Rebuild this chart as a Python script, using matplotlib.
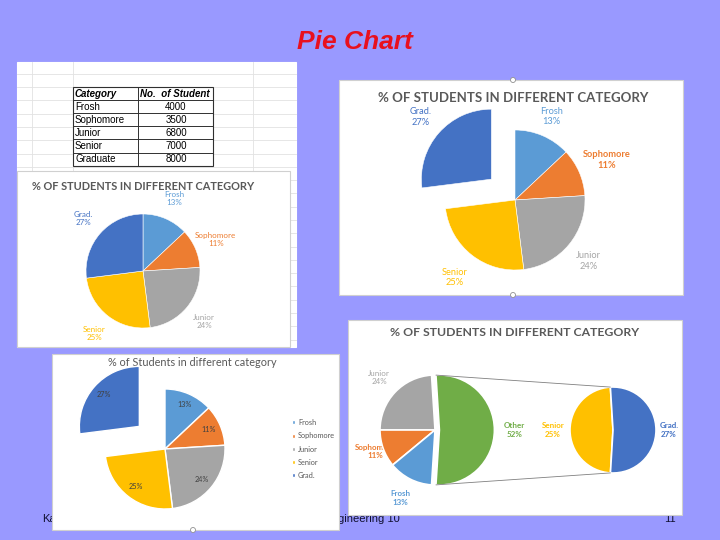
import matplotlib.pyplot as plt
from matplotlib.patches import Rectangle, Circle, ConnectionPatch
import numpy as np

# table / chart data
categories = ["Frosh", "Sophomore", "Junior", "Senior", "Graduate"]
students = [4000, 3500, 6800, 7000, 8000]
short_names = ["Frosh", "Sophomore", "Junior", "Senior", "Grad."]
pct = [13, 11, 24, 25, 27]
other_names = ["Other", "Junior", "Sophomore", "Frosh"]
other_pct = [52, 24, 11, 13]
split_names = ["Senior", "Grad."]
split_pct = [25, 27]

colors = ["#5B9BD5", "#ED7D31", "#A5A5A5", "#FFC000", "#4472C4"]
other_colors = ["#70AD47", "#A5A5A5", "#ED7D31", "#5B9BD5"]
split_colors = ["#FFC000", "#4472C4"]

W, H = 720, 540
BG = "#9999FF"
TITLE_GRAY = "#595959"
CHART_FONT = ["Lato", "DejaVu Sans"]

fig = plt.figure(figsize=(W / 100, H / 100), dpi=100, facecolor=BG)

# slide layer in pixel coords
slide = fig.add_axes([0, 0, 1, 1])
slide.set_xlim(0, W)
slide.set_ylim(H, 0)
slide.axis("off")


def panel(x0, y0, x1, y1, edge="#D0D0D0", z=1):
    slide.add_patch(Rectangle((x0, y0), x1 - x0, y1 - y0, facecolor="white",
                              edgecolor=edge, linewidth=0.8, zorder=z))


def handle(x, y):
    slide.add_patch(Circle((x, y), 2.5, facecolor="white", edgecolor="#909090",
                           linewidth=0.6, zorder=10))


def box(x0, y0, x1, y1):
    return [x0 / W, 1 - y1 / H, (x1 - x0) / W, (y1 - y0) / H]


def pie_ax(cx, cy, half):
    ax = fig.add_axes(box(cx - half, cy - half, cx + half, cy + half))
    ax.set_facecolor("none")
    return ax


def fix_limits(ax, r, half):
    ax.set_xlim(-half / r, half / r)
    ax.set_ylim(-half / r, half / r)
    ax.axis("off")


def outer_labels(ax, wedges, names, vals, cols, d, size, bold=(), z=3):
    # d may be a single distance or one per wedge
    ds = d if isinstance(d, (list, tuple)) else [d] * len(wedges)
    for i, (w, n, v, c, di) in enumerate(zip(wedges, names, vals, cols, ds)):
        th = np.deg2rad((w.theta1 + w.theta2) / 2)
        x = w.center[0] + di * np.cos(th)
        y = w.center[1] + di * np.sin(th)
        ax.text(x, y, f"{n}\n{v}%", ha="center", va="center", color=c,
                fontsize=size, linespacing=1.25, family=CHART_FONT,
                fontweight="bold" if i in bold else "normal", zorder=z)


# title
slide.text(355, 42, "Pie Chart", ha="center", va="center", fontsize=19,
           color="#E8101E", fontweight="bold", style="italic",
           family=["Liberation Sans", "DejaVu Sans"])

# footer text (partly hidden by the bottom-left panel)
ffont = ["Liberation Sans"]
slide.text(42, 519, "Ka", ha="left", va="center", fontsize=8, color="#101030",
           family=ffont, zorder=0.5)
slide.text(338, 519, "gineering 10", ha="left", va="center", fontsize=8,
           color="#101030", family=ffont, zorder=0.5)
slide.text(676, 519, "11", ha="right", va="center", fontsize=8, color="#101030",
           family=ffont, zorder=0.5)

# ---- spreadsheet area (top-left) ----
panel(17, 62, 296, 347, edge="white")
for gy in np.arange(73.7, 347, 13.3):
    slide.plot([17, 296], [gy, gy], color="#E2E2E2", lw=0.6, zorder=1.1)
for gx in [32, 73, 253]:
    slide.plot([gx, gx], [62, 347], color="#E2E2E2", lw=0.6, zorder=1.1)

tx0, tx1, tmid, ty0, rh = 73, 213, 138, 87, 13.1
slide.add_patch(Rectangle((tx0, ty0), tx1 - tx0, rh * 6, facecolor="white",
                          edgecolor="#303030", lw=0.8, zorder=1.2))
for k in range(1, 6):
    slide.plot([tx0, tx1], [ty0 + k * rh] * 2, color="#303030", lw=0.7, zorder=1.3)
slide.plot([tmid, tmid], [ty0, ty0 + 6 * rh], color="#303030", lw=0.7, zorder=1.3)
tfont = ["Liberation Sans", "DejaVu Sans"]
slide.text(tx0 + 2, ty0 + rh / 2, "Category", ha="left", va="center", fontsize=7,
           fontweight="bold", style="italic", family=tfont, zorder=1.4)
slide.text(tmid + 2, ty0 + rh / 2, "No.  of Student", ha="left", va="center",
           fontsize=7, fontweight="bold", style="italic", family=tfont, zorder=1.4)
for k, (c, n) in enumerate(zip(categories, students)):
    yy = ty0 + (k + 1.5) * rh
    slide.text(tx0 + 2, yy, c, ha="left", va="center", fontsize=7, family=tfont,
               zorder=1.4)
    slide.text(176, yy, str(n), ha="center", va="center", fontsize=7,
               family=tfont, zorder=1.4)

# ---- chart panels ----
panel(17, 171, 290, 347, z=2)
panel(339, 80, 683, 295)
panel(348, 320, 682, 515)
panel(52, 354, 339, 530)
handle(513, 80)
handle(513, 295)
handle(193, 530)

# chart 1 (top-left)
slide.text(143, 186, "% OF STUDENTS IN DIFFERENT CATEGORY", ha="center",
           va="center", fontsize=7.9, color=TITLE_GRAY, fontweight="bold",
           family=CHART_FONT, zorder=3)
r1, h1 = 57, 85
ax1 = pie_ax(143, 271, h1)
w1, _ = ax1.pie(pct, colors=colors, startangle=90, counterclock=False,
                wedgeprops=dict(edgecolor="white", linewidth=0.4))
outer_labels(ax1, w1, short_names, pct, colors, 1.39, 5.8)
fix_limits(ax1, r1, h1)

# chart 2 (top-right)
slide.text(513, 98, "% OF STUDENTS IN DIFFERENT CATEGORY", ha="center",
           va="center", fontsize=9.5, color=TITLE_GRAY, fontweight="bold",
           family=CHART_FONT)
r2, h2 = 70, 105
ax2 = pie_ax(515, 200, h2)
w2, _ = ax2.pie(pct, colors=colors, startangle=90, counterclock=False,
                explode=[0, 0, 0, 0, 0.45],
                wedgeprops=dict(edgecolor="white", linewidth=0.4))
outer_labels(ax2, w2, short_names, pct, colors, [1.3, 1.43, 1.36, 1.4, 1.34],
             6.7, bold=(1,))
fix_limits(ax2, r2, h2)

# chart 3 (bottom-left)
slide.text(192, 363, "% of Students in different category", ha="center",
           va="center", fontsize=7.8, color=TITLE_GRAY, family=CHART_FONT)
r3, h3 = 60, 88
ax3 = pie_ax(165, 449, h3)
w3, _, _ = ax3.pie(pct, colors=colors, startangle=90, counterclock=False,
                   explode=[0, 0, 0, 0, 0.57], autopct="%.0f%%", pctdistance=0.8,
                   wedgeprops=dict(edgecolor="white", linewidth=1.0),
                   textprops=dict(fontsize=5.2, color="#404040",
                                  family=CHART_FONT))
fix_limits(ax3, r3, h3)
ax3.legend(w3, short_names, loc="upper left", frameon=False,
           labelcolor="#595959", handlelength=0.45, handleheight=0.45,
           handletextpad=0.35, labelspacing=0.85, borderpad=0, borderaxespad=0,
           bbox_to_anchor=(292 / W, 1 - 419 / H), bbox_transform=fig.transFigure,
           prop=dict(family=CHART_FONT, size=5.3))

# chart 4 (bottom-right, pie of pie)
slide.text(515, 333, "% OF STUDENTS IN DIFFERENT CATEGORY", ha="center",
           va="center", fontsize=8.8, color=TITLE_GRAY, fontweight="bold",
           family=CHART_FONT)
r4, h4 = 55, 85
ax4 = pie_ax(435, 430, h4)
w4, _ = ax4.pie(other_pct, colors=other_colors, startangle=-93.6,
                explode=[0.08, 0, 0, 0],
                wedgeprops=dict(edgecolor="white", linewidth=1.2, zorder=2))
# the Sophomore label sits partly behind the pie, as in the source
outer_labels(ax4, w4, other_names, other_pct, other_colors,
             [1.37, 1.39, 1.16, 1.39], 5.8, bold=(0, 2, 3), z=1)
fix_limits(ax4, r4, h4)

r5, h5 = 43, 70
ax5 = pie_ax(613, 430, h5)
w5, _ = ax5.pie(split_pct, colors=split_colors, startangle=93.5,
                wedgeprops=dict(edgecolor="white", linewidth=1.2))
outer_labels(ax5, w5, split_names, split_pct, split_colors, [1.4, 1.3], 5.8,
             bold=(0, 1))
fix_limits(ax5, r5, h5)

# connector lines between the two pies
g = w4[0]
for th_a, th_b in [(g.theta2, w5[0].theta1), (g.theta1, w5[0].theta2)]:
    pa = (g.center[0] + np.cos(np.deg2rad(th_a)), g.center[1] + np.sin(np.deg2rad(th_a)))
    pb = (np.cos(np.deg2rad(th_b)), np.sin(np.deg2rad(th_b)))
    con = ConnectionPatch(xyA=pb, coordsA=ax5.transData, xyB=pa,
                          coordsB=ax4.transData, color="#808080", lw=0.6)
    fig.add_artist(con)

fig.savefig("out.png", dpi=100, facecolor=BG)
